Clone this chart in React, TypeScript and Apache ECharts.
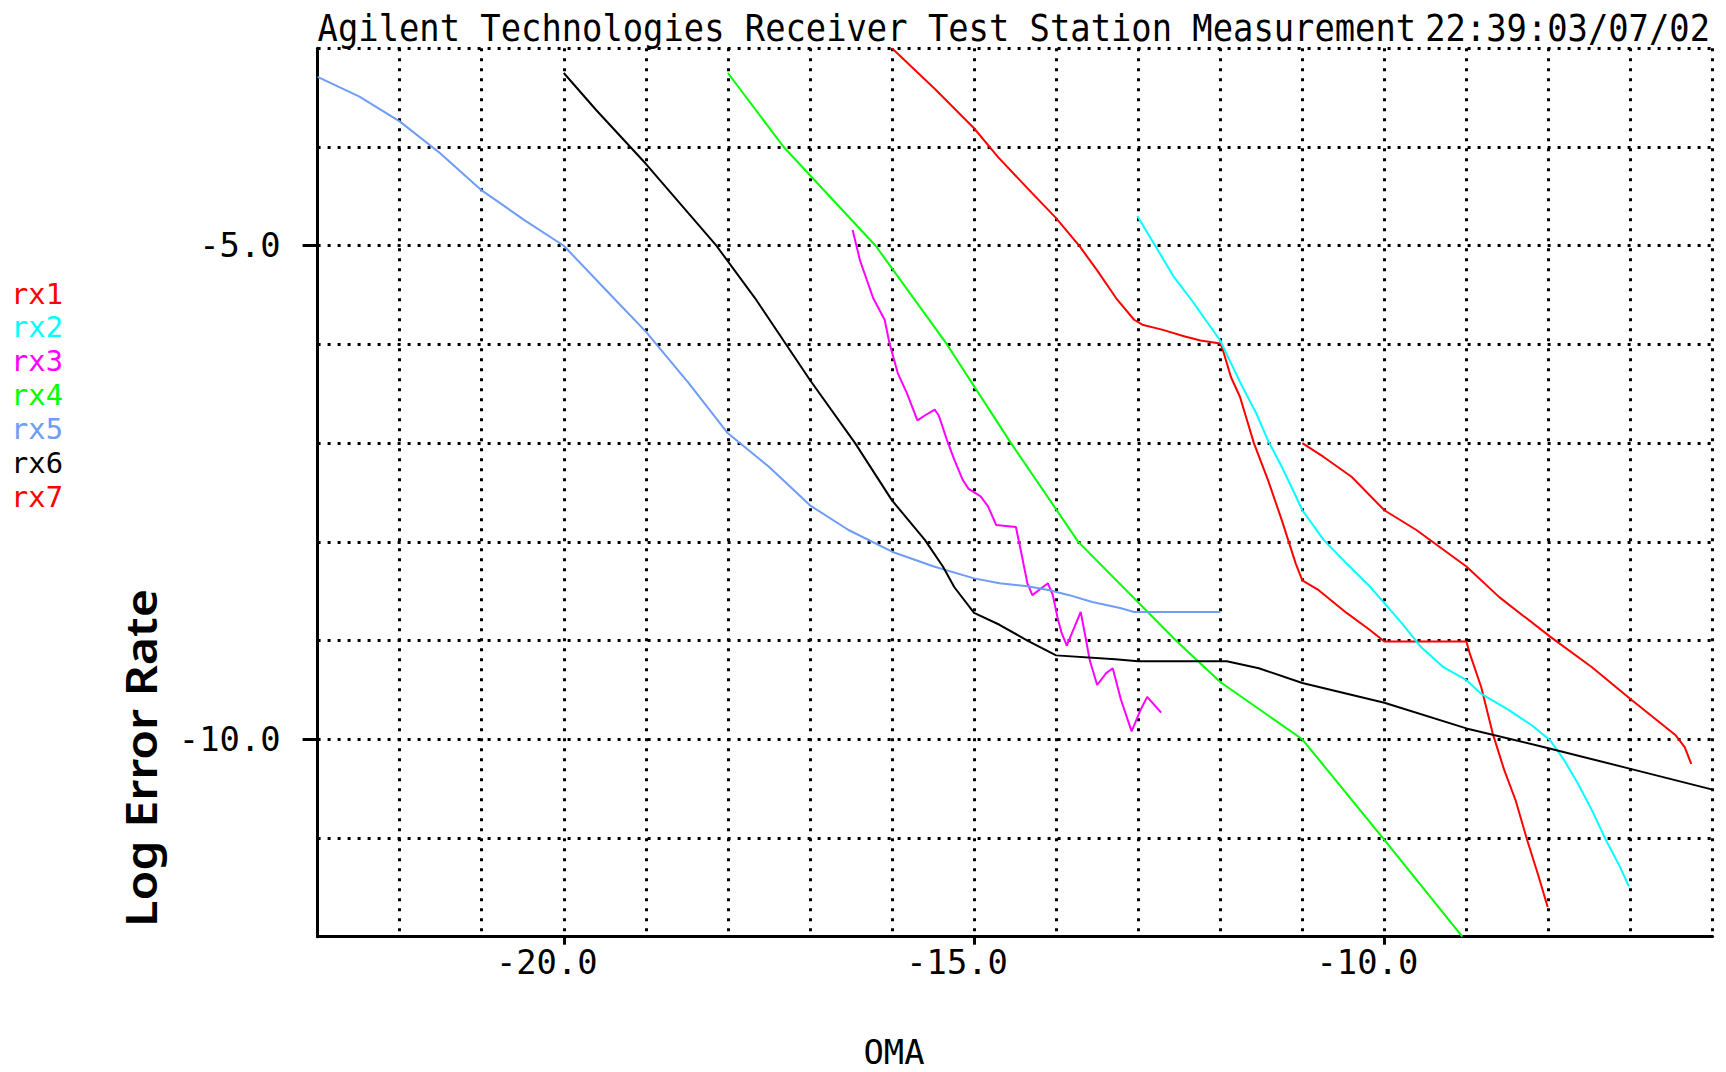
import React, { useEffect, useRef } from 'react';
import * as echarts from 'echarts';

const seriesNames = ['rx1', 'rx2', 'rx3', 'rx4', 'rx5', 'rx6', 'rx7'];
const seriesColors = ['#ff0000', '#00ffff', '#ff00ff', '#00ff00', '#6e9cf6', '#000000', '#ff0000'];

const rx1: [number, number][] = [
  [-16.0, -3.0], [-15.48, -3.41], [-15.0, -3.81], [-14.71, -4.1], [-14.29, -4.47], [-14.0, -4.72],
  [-13.71, -5.01], [-13.5, -5.25], [-13.27, -5.53], [-13.05, -5.75], [-12.95, -5.8], [-12.71, -5.85],
  [-12.43, -5.92], [-12.24, -5.96], [-12.0, -5.99], [-11.97, -6.05], [-11.87, -6.33], [-11.76, -6.53],
  [-11.59, -7.0], [-11.42, -7.37], [-11.25, -7.78], [-11.08, -8.22], [-11.0, -8.39], [-10.8, -8.49],
  [-10.46, -8.72], [-10.18, -8.89], [-10.0, -9.01], [-9.0, -9.01], [-8.96, -9.13], [-8.82, -9.47],
  [-8.68, -9.94], [-8.54, -10.31], [-8.4, -10.62], [-8.26, -11.02], [-8.12, -11.39], [-8.01, -11.7],
];

const rx2: [number, number][] = [
  [-13.01, -4.7], [-12.8, -4.99], [-12.57, -5.31], [-12.35, -5.55], [-12.18, -5.75], [-12.0, -5.96],
  [-11.87, -6.19], [-11.73, -6.43], [-11.56, -6.7], [-11.42, -6.97], [-11.25, -7.24], [-11.1, -7.5],
  [-11.0, -7.68], [-10.74, -7.98], [-10.46, -8.22], [-10.18, -8.45], [-10.0, -8.62], [-9.78, -8.83],
  [-9.56, -9.06], [-9.28, -9.27], [-9.0, -9.4], [-8.82, -9.54], [-8.49, -9.7], [-8.2, -9.86],
  [-7.98, -10.01], [-7.81, -10.21], [-7.64, -10.45], [-7.47, -10.72], [-7.3, -11.02], [-7.13, -11.29],
  [-7.02, -11.49],
];

const rx3: [number, number][] = [
  [-16.48, -4.84], [-16.39, -5.15], [-16.23, -5.53], [-16.09, -5.75], [-16.03, -5.99], [-15.93, -6.29],
  [-15.82, -6.49], [-15.69, -6.77], [-15.6, -6.72], [-15.48, -6.66], [-15.43, -6.72], [-15.33, -6.97],
  [-15.24, -7.17], [-15.14, -7.37], [-15.07, -7.46], [-14.92, -7.54], [-14.83, -7.64], [-14.73, -7.83],
  [-14.49, -7.85], [-14.44, -8.05], [-14.35, -8.42], [-14.29, -8.54], [-14.1, -8.42], [-14.04, -8.54],
  [-13.98, -8.78], [-13.93, -8.93], [-13.87, -9.05], [-13.81, -8.93], [-13.7, -8.71], [-13.65, -8.93],
  [-13.59, -9.2], [-13.5, -9.45], [-13.39, -9.33], [-13.31, -9.28], [-13.21, -9.6], [-13.08, -9.92],
  [-12.97, -9.7], [-12.89, -9.57], [-12.72, -9.73],
];

const rx4: [number, number][] = [
  [-18.0, -3.25], [-17.32, -4.0], [-16.2, -5.0], [-15.33, -6.0], [-14.55, -7.0], [-13.73, -8.0],
  [-12.54, -9.0], [-12.0, -9.42], [-11.0, -10.0], [-10.02, -11.0], [-9.05, -12.0],
];

const rx5: [number, number][] = [
  [-23.0, -3.29], [-22.49, -3.49], [-22.0, -3.74], [-21.51, -4.06], [-21.0, -4.44], [-20.48, -4.74],
  [-20.0, -5.0], [-19.37, -5.55], [-19.0, -5.87], [-18.48, -6.39], [-18.0, -6.9], [-17.5, -7.24],
  [-17.0, -7.63], [-16.53, -7.88], [-16.0, -8.1], [-15.49, -8.25], [-15.0, -8.37], [-14.69, -8.42],
  [-14.35, -8.45], [-14.08, -8.49], [-13.84, -8.54], [-13.56, -8.61], [-13.22, -8.67], [-13.05, -8.71],
  [-12.0, -8.71],
];

const rx6: [number, number][] = [
  [-20.0, -3.25], [-19.6, -3.63], [-19.0, -4.17], [-18.14, -5.0], [-17.67, -5.53], [-17.0, -6.36],
  [-16.45, -7.0], [-16.0, -7.58], [-15.6, -7.98], [-15.38, -8.25], [-15.24, -8.46], [-15.0, -8.72],
  [-14.69, -8.84], [-14.35, -9.0], [-14.0, -9.15], [-13.28, -9.19], [-13.0, -9.21], [-11.92, -9.21],
  [-11.53, -9.28], [-11.0, -9.43], [-10.0, -9.63], [-9.0, -9.89], [-8.0, -10.09], [-7.0, -10.3],
  [-6.0, -10.51],
];

const rx7: [number, number][] = [
  [-11.0, -7.0], [-10.74, -7.14], [-10.4, -7.34], [-10.0, -7.68], [-9.61, -7.88], [-9.0, -8.25],
  [-8.6, -8.56], [-7.98, -8.96], [-7.47, -9.27], [-6.99, -9.6], [-6.45, -9.96], [-6.34, -10.08],
  [-6.26, -10.25],
];

const seriesData = [rx1, rx2, rx3, rx4, rx5, rx6, rx7];

const xRange = [-23, -6];
const yRange = [-12, -3];
const xLabelValues = [-20, -15, -10];
const yLabelValues = [-10, -5];

const titleMain = 'Agilent Technologies Receiver Test Station Measurement';
const titleTime = '22:39:03/07/02';
const xName = 'OMA';
const yName = 'Log Error Rate';

const MONO = '"DejaVu Sans Mono", "Liberation Mono", monospace';
const FS = 33.8;

export default function App() {
  const ref = useRef<HTMLDivElement>(null);

  useEffect(() => {
    if (!ref.current) return;
    const chart = echarts.init(ref.current, null, { renderer: 'svg' });

    const dotted = { color: '#000', width: 3, type: [3, 7] as number[] };

    const option: any = {
      animation: false,
      backgroundColor: '#ffffff',
      grid: {
        left: 317.6,
        top: 48.3,
        right: 13.4,
        bottom: 135.3,
        containLabel: false,
        outerBoundsMode: 'none',
      },
      legend: {
        orient: 'vertical',
        left: 6,
        top: 279,
        padding: 0,
        itemGap: 4.9,
        itemWidth: 0,
        itemHeight: 0,
        icon: 'none',
        selectedMode: false,
        textStyle: { fontFamily: MONO, fontSize: 28.8 },
        data: seriesNames.map((n, i) => ({ name: n, textStyle: { color: seriesColors[i] } })),
      },
      xAxis: [
        {
          type: 'value',
          position: 'bottom',
          min: xRange[0],
          max: xRange[1],
          interval: 1,
          axisLine: { show: true, onZero: false, lineStyle: { color: '#000', width: 3 } },
          axisTick: { show: false },
          axisLabel: { show: false },
          splitLine: { show: true, lineStyle: dotted },
        },
        {
          type: 'value',
          position: 'bottom',
          min: xRange[0],
          max: xRange[1],
          axisLine: { show: false, onZero: false },
          axisTick: {
            show: true,
            customValues: xLabelValues,
            length: 8,
            lineStyle: { color: '#000', width: 3 },
          },
          axisLabel: {
            show: true,
            customValues: xLabelValues,
            margin: 9,
            color: '#000',
            fontFamily: MONO,
            fontSize: FS,
            padding: [0, 34, 0, 0],
            formatter: (v: number) => v.toFixed(1),
          },
          splitLine: { show: false },
        },
      ],
      yAxis: [
        {
          type: 'value',
          position: 'left',
          min: yRange[0],
          max: yRange[1],
          interval: 1,
          axisLine: { show: true, onZero: false, lineStyle: { color: '#000', width: 3 } },
          axisTick: { show: false },
          axisLabel: { show: false },
          splitLine: { show: true, lineStyle: dotted },
        },
        {
          type: 'value',
          position: 'left',
          min: yRange[0],
          max: yRange[1],
          axisLine: { show: false, onZero: false },
          axisTick: {
            show: true,
            customValues: yLabelValues,
            length: 15,
            lineStyle: { color: '#000', width: 3 },
          },
          axisLabel: {
            show: true,
            customValues: yLabelValues,
            margin: 37,
            color: '#000',
            fontFamily: MONO,
            fontSize: FS,
            formatter: (v: number) => v.toFixed(1),
          },
          splitLine: { show: false },
        },
      ],
      series: seriesNames.map((n, i) => ({
        name: n,
        type: 'line',
        xAxisIndex: 0,
        yAxisIndex: 0,
        data: seriesData[i],
        showSymbol: false,
        symbol: 'none',
        silent: true,
        color: seriesColors[i],
        itemStyle: { color: seriesColors[i] },
        lineStyle: { color: seriesColors[i], width: 2 },
      })),
      graphic: [
        {
          type: 'text',
          x: 317.6,
          y: 27.5,
          scaleY: 1.12,
          style: { text: titleMain, fontFamily: MONO, fontSize: FS, fill: '#000', align: 'left', verticalAlign: 'middle' },
        },
        {
          type: 'text',
          x: 1710,
          y: 27.5,
          scaleY: 1.12,
          style: { text: titleTime, fontFamily: MONO, fontSize: FS, fill: '#000', align: 'right', verticalAlign: 'middle' },
        },
        {
          type: 'text',
          x: 894,
          y: 1052,
          style: { text: xName, fontFamily: MONO, fontSize: FS, fill: '#000', align: 'center', verticalAlign: 'middle' },
        },
        {
          type: 'text',
          x: 140,
          y: 758,
          rotation: Math.PI / 2,
          scaleX: 1.1,
          style: {
            text: yName,
            fontFamily: '"Noto Sans", "Open Sans", sans-serif',
            fontWeight: 600,
            fontSize: 44,
            fill: '#000',
            align: 'center',
            verticalAlign: 'middle',
          },
        },
      ],
    };

    chart.setOption(option);
    return () => {
      chart.dispose();
    };
  }, []);

  return (
    <div
      ref={ref}
      style={{ position: 'fixed', left: 0, top: 0, width: 1726, height: 1072, background: '#ffffff' }}
    />
  );
}
